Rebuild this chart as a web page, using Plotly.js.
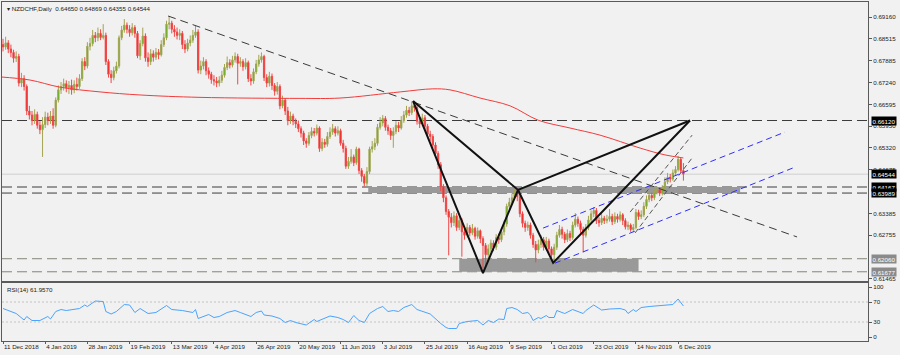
<!DOCTYPE html>
<html><head><meta charset="utf-8">
<script src="https://cdn.plot.ly/plotly-3.0.1.min.js"></script>
<style>html,body{margin:0;padding:0;background:#f1f1f1}#chart{width:900px;height:355px}</style>
</head><body><div id="chart"></div>
<script>
const symbolTitle = 'NZDCHF,Daily';
const dateLabels = ['11 Dec 2018','4 Jan 2019','28 Jan 2019','19 Feb 2019','13 Mar 2019','4 Apr 2019','26 Apr 2019','20 May 2019','11 Jun 2019','3 Jul 2019','25 Jul 2019','16 Aug 2019','9 Sep 2019','1 Oct 2019','23 Oct 2019','14 Nov 2019','6 Dec 2019'];
const barsPerLabel = 16;

const open = [
0.6835,0.6828,0.6840,0.6822,0.6812,0.6795,0.6800,0.6722,0.6735,0.6712,
0.6640,0.6628,0.6612,0.6630,0.6598,0.6585,0.6600,0.6622,0.6612,0.6625,
0.6598,0.6672,0.6702,0.6712,0.6720,0.6708,0.6715,0.6702,0.6718,0.6712,
0.6735,0.6785,0.6772,0.6830,0.6838,0.6862,0.6855,0.6868,0.6856,0.6862,
0.6785,0.6748,0.6738,0.6758,0.6772,0.6855,0.6878,0.6892,0.6880,0.6870,
0.6885,0.6868,0.6802,0.6838,0.6860,0.6796,0.6785,0.6808,0.6798,0.6812,
0.6805,0.6835,0.6855,0.6895,0.6898,0.6880,0.6872,0.6862,0.6868,0.6835,
0.6822,0.6840,0.6848,0.6862,0.6872,0.6760,0.6772,0.6785,0.6758,0.6748,
0.6732,0.6728,0.6722,0.6730,0.6745,0.6768,0.6782,0.6775,0.6790,0.6800,
0.6780,0.6785,0.6770,0.6782,0.6735,0.6728,0.6755,0.6778,0.6790,0.6800,
0.6738,0.6722,0.6742,0.6715,0.6698,0.6712,0.6655,0.6672,0.6640,0.6612,
0.6625,0.6610,0.6602,0.6588,0.6575,0.6552,0.6545,0.6568,0.6580,0.6575,
0.6590,0.6530,0.6548,0.6542,0.6565,0.6578,0.6588,0.6575,0.6582,0.6545,
0.6530,0.6478,0.6492,0.6505,0.6488,0.6528,0.6465,0.6448,0.6428,0.6462,
0.6528,0.6535,0.6545,0.6592,0.6605,0.6618,0.6592,0.6582,0.6568,0.6580,
0.6598,0.6590,0.6612,0.6628,0.6642,0.6635,0.6655,0.6650,0.6610,0.6602,
0.6620,0.6595,0.6572,0.6565,0.6540,0.6515,0.6482,0.6418,0.6385,0.6345,
0.6328,0.6312,0.6332,0.6298,0.6318,0.6285,0.6275,0.6298,0.6282,0.6295,
0.6272,0.6288,0.6265,0.6245,0.6218,0.6235,0.6252,0.6240,0.6268,0.6262,
0.6285,0.6308,0.6360,0.6372,0.6385,0.6398,0.6388,0.6338,0.6310,0.6298,
0.6305,0.6275,0.6248,0.6232,0.6248,0.6262,0.6240,0.6258,0.6235,0.6218,
0.6240,0.6275,0.6292,0.6278,0.6262,0.6280,0.6268,0.6305,0.6322,0.6310,
0.6292,0.6275,0.6298,0.6320,0.6338,0.6348,0.6318,0.6312,0.6325,0.6318,
0.6322,0.6330,0.6315,0.6330,0.6322,0.6335,0.6318,0.6300,0.6305,0.6292,
0.6298,0.6342,0.6330,0.6335,0.6360,0.6380,0.6392,0.6385,0.6402,0.6408,
0.6398,0.6412,0.6432,0.6445,0.6440,0.6458,0.6468,0.6498,0.64650];

const high = [
0.6852,0.6858,0.6848,0.6835,0.6820,0.6815,0.6808,0.6752,0.6745,0.6718,
0.6655,0.6640,0.6645,0.6638,0.6610,0.6622,0.6638,0.6635,0.6640,0.6648,
0.6680,0.6715,0.6725,0.6735,0.6730,0.6728,0.6732,0.6730,0.6738,0.6748,
0.6795,0.6798,0.6842,0.6855,0.6878,0.6872,0.6885,0.6880,0.6895,0.6870,
0.6792,0.6760,0.6770,0.6785,0.6862,0.6890,0.6910,0.6900,0.6892,0.6898,
0.6892,0.6875,0.6848,0.6885,0.6868,0.6812,0.6822,0.6818,0.6825,0.6822,
0.6848,0.6868,0.6905,0.6918,0.6905,0.6892,0.6885,0.6880,0.6875,0.6848,
0.6852,0.6862,0.6878,0.6890,0.6880,0.6788,0.6798,0.6792,0.6768,0.6755,
0.6745,0.6740,0.6742,0.6758,0.6778,0.6800,0.6792,0.6802,0.6812,0.6808,
0.6798,0.6792,0.6795,0.6788,0.6748,0.6765,0.6790,0.6805,0.6812,0.6805,
0.6748,0.6755,0.6750,0.6722,0.6725,0.6718,0.6685,0.6678,0.6652,0.6638,
0.6632,0.6618,0.6612,0.6595,0.6582,0.6560,0.6578,0.6592,0.6590,0.6600,
0.6595,0.6560,0.6558,0.6578,0.6592,0.6602,0.6595,0.6595,0.6588,0.6555,
0.6538,0.6505,0.6528,0.6512,0.6535,0.6532,0.6472,0.6455,0.6475,0.6535,
0.6552,0.6560,0.6602,0.6622,0.6628,0.6625,0.6600,0.6590,0.6592,0.6610,
0.6608,0.6625,0.6640,0.6655,0.6652,0.6668,0.6665,0.6658,0.6622,0.6632,
0.6628,0.6602,0.6582,0.6572,0.6548,0.6522,0.6490,0.6425,0.6392,0.6352,
0.6340,0.6345,0.6340,0.6330,0.6325,0.6295,0.6310,0.6305,0.6308,0.6300,
0.6298,0.6292,0.6272,0.6252,0.6248,0.6262,0.6260,0.6278,0.6280,0.6295,
0.6318,0.6368,0.6385,0.6398,0.6408,0.6410,0.6395,0.6345,0.6318,0.6315,
0.6312,0.6282,0.6258,0.6262,0.6275,0.6270,0.6270,0.6265,0.6242,0.6250,
0.6285,0.6305,0.6300,0.6285,0.6292,0.6288,0.6315,0.6340,0.6330,0.6318,
0.6300,0.6308,0.6332,0.6348,0.6358,0.6355,0.6328,0.6338,0.6332,0.6335,
0.6352,0.6338,0.6342,0.6338,0.6345,0.6340,0.6325,0.6315,0.6310,0.6308,
0.6352,0.6350,0.6348,0.6372,0.6392,0.6402,0.6400,0.6412,0.6418,0.6415,
0.6422,0.6445,0.6458,0.6455,0.6468,0.6478,0.6508,0.6502,0.64869];

const low = [
0.6815,0.6820,0.6810,0.6798,0.6782,0.6784,0.6712,0.6710,0.6700,0.6628,
0.6615,0.6598,0.6602,0.6588,0.6572,0.6505,0.6590,0.6598,0.6602,0.6588,
0.6592,0.6665,0.6690,0.6700,0.6695,0.6690,0.6688,0.6692,0.6700,0.6705,
0.6728,0.6760,0.6765,0.6818,0.6830,0.6842,0.6845,0.6848,0.6850,0.6775,
0.6738,0.6722,0.6730,0.6750,0.6765,0.6848,0.6870,0.6868,0.6858,0.6862,
0.6855,0.6795,0.6790,0.6830,0.6785,0.6770,0.6775,0.6785,0.6790,0.6792,
0.6800,0.6828,0.6848,0.6880,0.6868,0.6858,0.6850,0.6848,0.6822,0.6810,
0.6815,0.6830,0.6840,0.6855,0.6750,0.6748,0.6762,0.6745,0.6735,0.6720,
0.6715,0.6710,0.6712,0.6722,0.6738,0.6760,0.6765,0.6768,0.6782,0.6718,
0.6770,0.6758,0.6762,0.6725,0.6715,0.6720,0.6748,0.6770,0.6782,0.6728,
0.6710,0.6712,0.6702,0.6685,0.6688,0.6645,0.6648,0.6628,0.6598,0.6602,
0.6598,0.6590,0.6578,0.6562,0.6540,0.6532,0.6538,0.6560,0.6565,0.6568,
0.6520,0.6522,0.6532,0.6535,0.6558,0.6570,0.6565,0.6568,0.6538,0.6518,
0.6470,0.6470,0.6485,0.6478,0.6482,0.6455,0.6432,0.6418,0.6420,0.6455,
0.6518,0.6525,0.6538,0.6585,0.6595,0.6582,0.6570,0.6555,0.6532,0.6572,
0.6578,0.6585,0.6605,0.6620,0.6625,0.6628,0.6638,0.6600,0.6590,0.6595,
0.6585,0.6562,0.6552,0.6530,0.6505,0.6470,0.6405,0.6372,0.6335,0.6216,
0.6298,0.6302,0.6288,0.6290,0.6212,0.6262,0.6268,0.6272,0.6275,0.6262,
0.6265,0.6252,0.6178,0.6185,0.6205,0.6225,0.6228,0.6232,0.6250,0.6255,
0.6275,0.6300,0.6350,0.6365,0.6378,0.6375,0.6328,0.6298,0.6285,0.6288,
0.6265,0.6238,0.6195,0.6222,0.6238,0.6230,0.6232,0.6222,0.6205,0.6196,
0.6232,0.6268,0.6265,0.6252,0.6255,0.6258,0.6262,0.6298,0.6300,0.6282,
0.6225,0.6268,0.6290,0.6312,0.6328,0.6308,0.6300,0.6305,0.6308,0.6310,
0.6315,0.6305,0.6308,0.6312,0.6315,0.6305,0.6292,0.6290,0.6285,0.6284,
0.6292,0.6320,0.6322,0.6328,0.6352,0.6372,0.6375,0.6378,0.6395,0.6390,
0.6392,0.6405,0.6425,0.6430,0.6435,0.6450,0.6462,0.6458,0.64355];

const close = [
0.6828,0.6840,0.6822,0.6812,0.6795,0.6800,0.6722,0.6735,0.6712,0.6640,
0.6628,0.6612,0.6630,0.6598,0.6585,0.6600,0.6622,0.6612,0.6625,0.6598,
0.6672,0.6702,0.6712,0.6720,0.6708,0.6715,0.6702,0.6718,0.6712,0.6735,
0.6785,0.6772,0.6830,0.6838,0.6862,0.6855,0.6868,0.6856,0.6862,0.6785,
0.6748,0.6738,0.6758,0.6772,0.6855,0.6878,0.6892,0.6880,0.6870,0.6885,
0.6868,0.6802,0.6838,0.6860,0.6796,0.6785,0.6808,0.6798,0.6812,0.6805,
0.6835,0.6855,0.6895,0.6898,0.6880,0.6872,0.6862,0.6868,0.6835,0.6822,
0.6840,0.6848,0.6862,0.6872,0.6760,0.6772,0.6785,0.6758,0.6748,0.6732,
0.6728,0.6722,0.6730,0.6745,0.6768,0.6782,0.6775,0.6790,0.6800,0.6780,
0.6785,0.6770,0.6782,0.6735,0.6728,0.6755,0.6778,0.6790,0.6800,0.6738,
0.6722,0.6742,0.6715,0.6698,0.6712,0.6655,0.6672,0.6640,0.6612,0.6625,
0.6610,0.6602,0.6588,0.6575,0.6552,0.6545,0.6568,0.6580,0.6575,0.6590,
0.6530,0.6548,0.6542,0.6565,0.6578,0.6588,0.6575,0.6582,0.6545,0.6530,
0.6478,0.6492,0.6505,0.6488,0.6528,0.6465,0.6448,0.6428,0.6462,0.6528,
0.6535,0.6545,0.6592,0.6605,0.6618,0.6592,0.6582,0.6568,0.6580,0.6598,
0.6590,0.6612,0.6628,0.6642,0.6635,0.6655,0.6650,0.6610,0.6602,0.6620,
0.6595,0.6572,0.6565,0.6540,0.6515,0.6482,0.6418,0.6385,0.6345,0.6328,
0.6312,0.6332,0.6298,0.6318,0.6285,0.6275,0.6298,0.6282,0.6295,0.6272,
0.6288,0.6265,0.6245,0.6218,0.6235,0.6252,0.6240,0.6268,0.6262,0.6285,
0.6308,0.6360,0.6372,0.6385,0.6398,0.6388,0.6338,0.6310,0.6298,0.6305,
0.6275,0.6248,0.6232,0.6248,0.6262,0.6240,0.6258,0.6235,0.6218,0.6240,
0.6275,0.6292,0.6278,0.6262,0.6280,0.6268,0.6305,0.6322,0.6310,0.6292,
0.6275,0.6298,0.6320,0.6338,0.6348,0.6318,0.6312,0.6325,0.6318,0.6322,
0.6330,0.6315,0.6330,0.6322,0.6335,0.6318,0.6300,0.6305,0.6292,0.6298,
0.6342,0.6330,0.6335,0.6360,0.6380,0.6392,0.6385,0.6402,0.6408,0.6398,
0.6412,0.6432,0.6445,0.6440,0.6458,0.6468,0.6498,0.6465,0.64544];

// 200-period moving average
const maBar = [-1.1,10.2,21.6,36.8,52,74.7,112.6,127.8,150.6,163,169.5,180.9,192.3,202.9,215,226.4,241.6,251,258];
const maValue = [0.6740,0.6731,0.6710,0.6696,0.6687,0.6680,0.6677,0.6678,0.6696,0.6705,0.6702,0.6678,0.6655,0.6613,0.6590,0.6569,0.6531,0.6511,0.6502];

// RSI(14)
const rsiBar = [0,3,5,8,9,11,14,17,18,20,22,24,26,29,31,32,35,38,39,41,43,46,48,50,52,55,58,62,64,68,72,73,74,76,78,80,82,85,88,90,92,94,96,98,99,102,105,107,109,111,115,118,119,121,124,127,129,131,133,135,137,139,142,144,146,148,150,152,155,157,162,166,168,169,172,173,176,180,182,184,186,188,190,191,193,195,197,199,200,201,203,204,206,207,209,210,213,216,218,220,221,224,227,230,234,236,237,239,240,242,245,249,252,254,256,258];
const rsiValue = [57,51,47,34,41,33,33,41,36,51,55,53,55,57,64,61,72,71,51,46,51,65,64,49,57,47,49,63,55,53,49,55,37,41,45,39,41,49,53,49,45,41,49,52,44,42,37,29,33,29,24,35,31,35,42,39,35,29,43,33,29,47,57,61,51,53,51,59,65,55,46,27,19,17,17,27,31,33,24,33,29,36,35,57,59,55,47,49,44,33,39,37,43,39,39,53,47,55,51,47,53,64,54,56,57,54,47,55,51,59,61,63,65,65,76,61.957];
const rsiLevels = [70, 30];
const rsiTicks = [100, 70, 30, 0];

// price scale ticks
const priceTicks = [0.69160,0.68515,0.67885,0.67240,0.66595,0.65950,0.65320,0.64675,0.63385,0.62755,0.61465];
// horizontal levels
const darkLevels = [0.66120, 0.64167, 0.63989];
const greyLevels = [0.62060, 0.61677];

// drawing objects (bar index, price)
const trendBar = [62.6, 301.1], trendPrice = [0.6919, 0.6270];
const patternBar = [155.5, 182.0, 195.3, 208.6, 260.5];
const patternPrice = [0.6669, 0.6164, 0.6408, 0.6194, 0.6612];
const chanUpBar = [204.8, 296.5], chanUpPrice = [0.6296, 0.6578];
const chanLoBar = [209.3, 300.3], chanLoPrice = [0.6193, 0.6475];
const steepUpBar = [237.8, 261.3], steepUpPrice = [0.6343, 0.6569];
const steepLoBar = [239.7, 261.3], steepLoPrice = [0.6282, 0.6502];
const zoneUpperBar = [138.5, 279.5];
const zoneLowerBar = [173, 241];

const bars = close.map((_, i) => i);
const last = close.length - 1;
const XR = [-0.379, 328.0];
const F = 'Liberation Sans, Arial, sans-serif';

const traces = [
  {type:'candlestick', x:bars, open:open, high:high, low:low, close:close, xaxis:'x', yaxis:'y',
   increasing:{line:{color:'#a3a352', width:1}, fillcolor:'#3dbf00'},
   decreasing:{line:{color:'#f04848', width:1}, fillcolor:'#f01818'},
   whiskerwidth:0, hoverinfo:'skip', showlegend:false},
  {type:'scatter', mode:'lines', x:maBar, y:maValue, line:{color:'#f23c3c', width:1, shape:'spline'}, hoverinfo:'skip', showlegend:false},
  {type:'scatter', mode:'lines', x:trendBar, y:trendPrice, line:{color:'#3a3a3a', width:1, dash:'8px,5px'}, hoverinfo:'skip', showlegend:false},
  {type:'scatter', mode:'lines', x:chanUpBar, y:chanUpPrice, line:{color:'#2d2dff', width:1, dash:'6px,4px'}, hoverinfo:'skip', showlegend:false},
  {type:'scatter', mode:'lines', x:chanLoBar, y:chanLoPrice, line:{color:'#2d2dff', width:1, dash:'6px,4px'}, hoverinfo:'skip', showlegend:false},
  {type:'scatter', mode:'lines', x:steepUpBar, y:steepUpPrice, line:{color:'#555', width:1, dash:'5px,3px'}, hoverinfo:'skip', showlegend:false},
  {type:'scatter', mode:'lines', x:steepLoBar, y:steepLoPrice, line:{color:'#555', width:1, dash:'5px,3px'}, hoverinfo:'skip', showlegend:false},
  {type:'scatter', mode:'lines', x:patternBar, y:patternPrice, line:{color:'#111', width:2}, hoverinfo:'skip', showlegend:false},
  {type:'scatter', mode:'lines', x:[patternBar[0], patternBar[2], patternBar[4]], y:[patternPrice[0], patternPrice[2], patternPrice[4]], line:{color:'#111', width:2}, hoverinfo:'skip', showlegend:false},
  {type:'scatter', mode:'lines', x:rsiBar, y:rsiValue, xaxis:'x2', yaxis:'y2', line:{color:'#4aa3ff', width:1}, hoverinfo:'skip', showlegend:false}
];

const shapes = [];
shapes.push({type:'rect', layer:'below', xref:'x', yref:'y', x0:zoneUpperBar[0], x1:zoneUpperBar[1], y0:darkLevels[2], y1:darkLevels[1], fillcolor:'#999', line:{width:0}});
shapes.push({type:'rect', layer:'below', xref:'x', yref:'y', x0:zoneLowerBar[0], x1:zoneLowerBar[1], y0:greyLevels[1], y1:greyLevels[0], fillcolor:'#999', line:{width:0}});
shapes.push({type:'line', layer:'below', xref:'paper', yref:'y', x0:0, x1:1, y0:close[last], y1:close[last], line:{color:'#cfcfcf', width:1}});
darkLevels.forEach(v => shapes.push({type:'line', layer:'below', xref:'paper', yref:'y', x0:0, x1:1, y0:v, y1:v, line:{color:'#3c3c3c', width:1, dash:'10px,5px'}}));
greyLevels.forEach(v => shapes.push({type:'line', layer:'below', xref:'paper', yref:'y', x0:0, x1:1, y0:v, y1:v, line:{color:'#858578', width:1, dash:'10px,5px'}}));
rsiLevels.forEach(v => shapes.push({type:'line', layer:'below', xref:'paper', yref:'y2', x0:0, x1:1, y0:v, y1:v, line:{color:'#c4c4c4', width:1, dash:'2px,2px'}}));

const annotations = [];
function tag(v, bg) {
  annotations.push({xref:'paper', yref:'y', x:1, y:v, xanchor:'left', yanchor:'middle', xshift:3,
    text:v.toFixed(5), showarrow:false, bgcolor:bg, borderpad:0.5,
    font:{family:F, size:6.2, color:'#fff'}});
}
darkLevels.forEach(v => tag(v, '#000'));
tag(close[last], '#000');
greyLevels.forEach(v => tag(v, '#8a8a8a'));
annotations.push({xref:'paper', yref:'paper', x:0.003, y:1, xanchor:'left', yanchor:'top', yshift:-1, showarrow:false,
  text:'▾ ' + symbolTitle + '  ' + [open[last], high[last], low[last], close[last]].map(v => v.toFixed(5)).join(' '),
  font:{family:F, size:6.2, color:'#222'}});
annotations.push({xref:'paper', yref:'paper', x:0.004, y:0.171, xanchor:'left', yanchor:'top', yshift:-1, showarrow:false,
  text:'RSI(14) ' + rsiValue[rsiValue.length - 1].toFixed(4), font:{family:F, size:6.2, color:'#222'}});

const axBase = {showgrid:false, zeroline:false, showline:true, mirror:true, linecolor:'#5a5a5a', linewidth:1, fixedrange:true};

const layout = {
  width:900, height:355,
  margin:{l:2, r:32, t:2, b:14},
  paper_bgcolor:'#f1f1f1', plot_bgcolor:'#f1f1f1',
  showlegend:false,
  xaxis:Object.assign({}, axBase, {domain:[0,1], anchor:'y', range:XR, showticklabels:false, ticks:'', rangeslider:{visible:false}}),
  yaxis:Object.assign({}, axBase, {domain:[0.177,1], anchor:'x', side:'right', range:[0.61406,0.69601],
    tickvals:priceTicks, ticktext:priceTicks.map(v => v.toFixed(5)), ticks:'outside', ticklen:3, tickcolor:'#5a5a5a',
    tickfont:{family:F, size:6.2, color:'#222'}}),
  xaxis2:Object.assign({}, axBase, {domain:[0,1], anchor:'y2', range:XR,
    tickvals:dateLabels.map((_, k) => k * barsPerLabel), ticktext:dateLabels, ticks:'outside', ticklen:2, tickcolor:'#5a5a5a',
    tickangle:0, ticklabelposition:'outside right', ticklabelstandoff:0, automargin:false,
    tickfont:{family:F, size:6.2, color:'#222'}}),
  yaxis2:Object.assign({}, axBase, {domain:[0,0.171], anchor:'x2', side:'right', range:[-8,108],
    tickvals:rsiTicks, ticktext:rsiTicks.map(String), ticks:'outside', ticklen:3, tickcolor:'#5a5a5a',
    tickfont:{family:F, size:6.2, color:'#222'}}),
  shapes:shapes,
  annotations:annotations
};

Plotly.newPlot('chart', traces, layout, {staticPlot:true, displayModeBar:false});
</script>
</body></html>
